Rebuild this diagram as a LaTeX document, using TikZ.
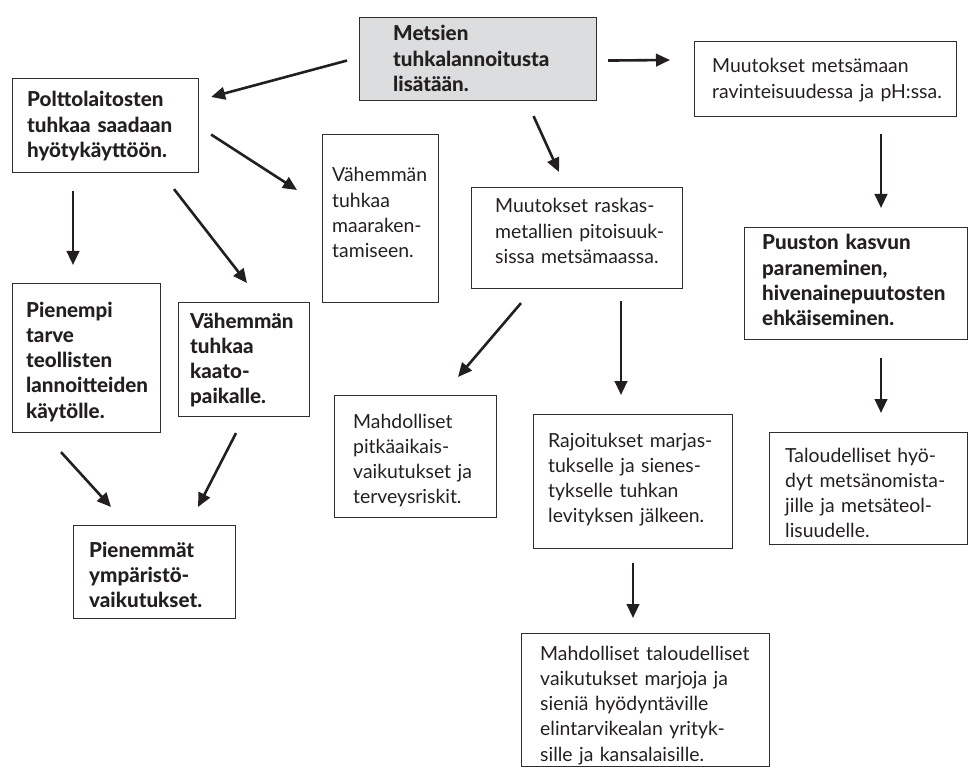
\documentclass[tikz,border=0pt]{standalone}
\usepackage{fontspec}
\setmainfont{Lato}[BoldFont={Lato Heavy}]
\usetikzlibrary{calc,arrows.meta}
\definecolor{ink}{HTML}{231F20}
\definecolor{boxline}{HTML}{2E2E2E}
\definecolor{boxgray}{HTML}{DCDDDE}
\begin{document}
\hyphenpenalty=10000 \exhyphenpenalty=10000 \hbadness=10000 \hfuzz=1000pt
\begin{tikzpicture}[x=1pt,y=-1pt,
  box/.style={draw=boxline, line width=1.1pt, anchor=north west, inner sep=0pt},
  txt/.style={anchor=base west, inner sep=0pt, text width=400pt, align=left,
    text=ink, font=\fontsize{19.4}{25.3}\selectfont},
  btxt/.style={txt, font=\fontsize{20.6}{25.3}\selectfont\bfseries},
  arr/.style={draw=ink, line width=2.6pt, -{Triangle[length=14pt,width=12.5pt]}}]
\useasboundingbox (0,0) rectangle (969,767);

% boxes
\node[box, fill=boxgray, minimum width=237pt, minimum height=83pt] (top) at (359,17) {};
\node[box, minimum width=186pt, minimum height=94pt]  (poltto) at (12,78) {};
\node[box, minimum width=262pt, minimum height=75pt]  (ravinto) at (694,41) {};
\node[box, minimum width=116pt, minimum height=168pt] (maarak) at (322,134) {};
\node[box, minimum width=211pt, minimum height=101pt] (raskas) at (471,187) {};
\node[box, minimum width=223pt, minimum height=112pt] (puusto) at (744,227) {};
\node[box, minimum width=148pt, minimum height=149pt] (pienempi) at (12,283) {};
\node[box, minimum width=131pt, minimum height=114pt] (kaato) at (178,302) {};
\node[box, minimum width=162pt, minimum height=122pt] (pitka) at (334,395) {};
\node[box, minimum width=199pt, minimum height=134pt] (rajoit) at (533,414) {};
\node[box, minimum width=198pt, minimum height=112pt] (taloud) at (769,432) {};
\node[box, minimum width=162pt, minimum height=93pt]  (pienemmat) at (73,525) {};
\node[box, minimum width=248pt, minimum height=133pt] (vaikutus) at (521,633) {};

% texts
\node[btxt] (top-t) at (393,41) {Metsien\\tuhkalannoitusta\\lisätään.};
\node[btxt] (poltto-t) at (27,107) {Polttolaitosten\\tuhkaa saadaan\\hyötykäyttöön.};
\node[txt] (ravinto-t) at (712,73) {Muutokset metsämaan\\ravinteisuudessa ja pH:ssa.};
\node[txt] (maarak-t) at (332,182) {Vähemmän\\tuhkaa\\maaraken-\\tamiseen.};
\node[txt] (raskas-t) at (495,213) {Muutokset raskas-\\metallien pitoisuuk-\\sissa metsämaassa.};
\node[btxt] (puusto-t) at (762,250) {Puuston kasvun\\paraneminen,\\hivenainepuutosten\\ehkäiseminen.};
\node[btxt] (pienempi-t) at (26,317) {Pienempi\\tarve\\teollisten\\lannoitteiden\\käytölle.};
\node[btxt] (kaato-t) at (190,328) {Vähemmän\\tuhkaa\\kaato-\\paikalle.};
\node[txt] (pitka-t) at (353,428) {Mahdolliset\\pitkäaikais-\\vaikutukset ja\\terveysriskit.};
\node[txt] (rajoit-t) at (548,447) {Rajoitukset marjas-\\tukselle ja sienes-\\tykselle tuhkan\\levityksen jälkeen.};
\node[txt] (taloud-t) at (785,462) {Taloudelliset hyö-\\dyt metsänomista-\\jille ja metsäteol-\\lisuudelle.};
\node[btxt] (pienemmat-t) at (89,557) {Pienemmät\\ympäristö-\\vaikutukset.};
\node[txt] (vaikutus-t) at (540,660) {Mahdolliset taloudelliset\\vaikutukset marjoja ja\\sieniä hyödyntäville\\elintarvikealan yrityk-\\sille ja kansalaisille.};

% connectors
\draw[arr] ($(top.west)+(-12,1.5)$) -- ($(poltto.north east)+(12,19)$);
\draw[arr] ($(top.east)+(11,1.5)$) -- ($(ravinto.north west)+(-24,19)$);
\draw[arr] ($(top.south)+(55.5,15)$) -- ($(raskas.north west)+(88,-15)$);
\draw[arr] ($(poltto.east)+(12,9)$) -- ($(maarak.north west)+(-25,56)$);
\draw[arr] ($(poltto.south west)+(61,18)$) -- ($(pienempi.north west)+(61,-18)$);
\draw[arr] ($(poltto.south west)+(162,16)$) -- ($(kaato.north west)+(69,-19)$);
\draw[arr] ($(pienempi.south west)+(49,19)$) -- ($(pienemmat.north west)+(38,-18)$);
\draw[arr] ($(kaato.south west)+(58,16)$) -- ($(pienemmat.north west)+(125,-18)$);
\draw[arr] ($(raskas.south west)+(50,14)$) -- ($(pitka.north west)+(124,-18)$);
\draw[arr] ($(raskas.south west)+(150,12)$) -- ($(rajoit.north west)+(88,-19)$);
\draw[arr] ($(rajoit.south west)+(100,14)$) -- ($(vaikutus.north west)+(112,-15)$);
\draw[arr] ($(ravinto.south west)+(187,17)$) -- ($(puusto.north west)+(137,-19)$);
\draw[arr] ($(puusto.south west)+(137,18)$) -- ($(taloud.north west)+(112,-19)$);
\end{tikzpicture}
\end{document}
